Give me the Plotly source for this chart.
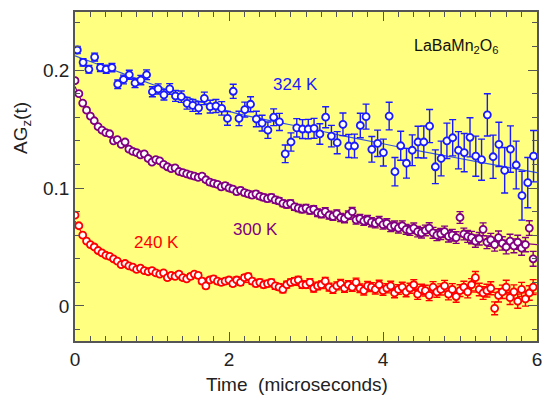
import plotly.graph_objects as go

# ---------------- data ----------------
t_324 = [0.03, 0.105, 0.18, 0.255, 0.33, 0.405, 0.48, 0.555, 0.63, 0.705,
         0.78, 0.855, 0.93, 1.005, 1.08, 1.155, 1.23, 1.305, 1.38, 1.455,
         1.53, 1.605, 1.68, 1.755, 1.83, 1.905, 1.98, 2.055, 2.13, 2.205,
         2.28, 2.355, 2.43, 2.505, 2.58, 2.655, 2.73, 2.805, 2.88, 2.955,
         3.03, 3.105, 3.18, 3.255, 3.33, 3.405, 3.48, 3.555, 3.63, 3.705,
         3.78, 3.855, 3.93, 4.005, 4.08, 4.155, 4.23, 4.305, 4.38, 4.455,
         4.53, 4.605, 4.68, 4.755, 4.83, 4.905, 4.98, 5.055, 5.13, 5.205,
         5.28, 5.355, 5.43, 5.505, 5.58, 5.655, 5.73, 5.805, 5.88, 5.955]
ag_324 = [0.217, 0.2065, 0.2006, 0.211, 0.202, 0.2006, 0.202, 0.188, 0.192, 0.196,
          0.189, 0.1915, 0.196, 0.1816, 0.184, 0.179, 0.184, 0.178, 0.1774, 0.1718,
          0.170, 0.168, 0.176, 0.169, 0.1695, 0.1675, 0.159, 0.182, 0.159, 0.1665,
          0.171, 0.1585, 0.155, 0.149, 0.160, 0.156, 0.129, 0.139, 0.151, 0.150,
          0.150, 0.1506, 0.1458, 0.160, 0.144, 0.1384, 0.154, 0.1356, 0.1356, 0.153,
          0.1605, 0.1328, 0.1379, 0.130, 0.161, 0.1138, 0.1358, 0.121, 0.132, 0.139,
          0.139, 0.1525, 0.118, 0.125, 0.140, 0.1426, 0.132, 0.130, 0.143, 0.127,
          0.124, 0.162, 0.1265, 0.137, 0.115, 0.133, 0.1195, 0.0935, 0.1045, 0.127]
err_324 = [0.0030, 0.0031, 0.0032, 0.0033, 0.0033, 0.0034, 0.0035, 0.0036, 0.0037, 0.0038,
           0.0039, 0.0040, 0.0041, 0.0042, 0.0043, 0.0044, 0.0045, 0.0046, 0.0048, 0.0049,
           0.0050, 0.0051, 0.0053, 0.0054, 0.0055, 0.0057, 0.0058, 0.0060, 0.0061, 0.0063,
           0.0064, 0.0066, 0.0067, 0.0069, 0.0071, 0.0073, 0.0075, 0.0077, 0.0078, 0.0080,
           0.0082, 0.0084, 0.0087, 0.0089, 0.0091, 0.0094, 0.0096, 0.0098, 0.0101, 0.0104,
           0.0106, 0.0109, 0.0112, 0.0114, 0.0117, 0.0120, 0.0123, 0.0126, 0.0130, 0.0133,
           0.0136, 0.0140, 0.0143, 0.0147, 0.0150, 0.0154, 0.0158, 0.0162, 0.0166, 0.0170,
           0.0174, 0.0179, 0.0183, 0.0188, 0.0193, 0.0197, 0.0202, 0.0207, 0.0213, 0.0218]

t_dense = [0.00, 0.05, 0.10, 0.15, 0.20, 0.25, 0.30, 0.35, 0.40, 0.45,
           0.50, 0.55, 0.60, 0.65, 0.70, 0.75, 0.80, 0.85, 0.90, 0.95,
           1.00, 1.05, 1.10, 1.15, 1.20, 1.25, 1.30, 1.35, 1.40, 1.45,
           1.50, 1.55, 1.60, 1.65, 1.70, 1.75, 1.80, 1.85, 1.90, 1.95,
           2.00, 2.05, 2.10, 2.15, 2.20, 2.25, 2.30, 2.35, 2.40, 2.45,
           2.50, 2.55, 2.60, 2.65, 2.70, 2.75, 2.80, 2.85, 2.90, 2.95,
           3.00, 3.05, 3.10, 3.15, 3.20, 3.25, 3.30, 3.35, 3.40, 3.45,
           3.50, 3.55, 3.60, 3.65, 3.70, 3.75, 3.80, 3.85, 3.90, 3.95,
           4.00, 4.05, 4.10, 4.15, 4.20, 4.25, 4.30, 4.35, 4.40, 4.45,
           4.50, 4.55, 4.60, 4.65, 4.70, 4.75, 4.80, 4.85, 4.90, 4.95,
           5.00, 5.05, 5.10, 5.15, 5.20, 5.25, 5.30, 5.35, 5.40, 5.45,
           5.50, 5.55, 5.60, 5.65, 5.70, 5.75, 5.80, 5.85, 5.90, 5.95]

ag_300 = [0.191, 0.180, 0.172, 0.166, 0.161, 0.157, 0.152, 0.149, 0.147, 0.146,
          0.140, 0.141, 0.137, 0.139, 0.133, 0.131, 0.130, 0.128, 0.129, 0.125,
          0.122, 0.124, 0.123, 0.120, 0.118, 0.1165, 0.117, 0.114, 0.113, 0.112,
          0.111, 0.110, 0.109, 0.110, 0.107, 0.105, 0.104, 0.103, 0.101, 0.102,
          0.100, 0.099, 0.097, 0.098, 0.096, 0.095, 0.094, 0.095, 0.093, 0.092,
          0.091, 0.092, 0.090, 0.089, 0.087, 0.086, 0.087, 0.084, 0.083, 0.082,
          0.083, 0.081, 0.082, 0.079, 0.078, 0.080, 0.077, 0.076, 0.078, 0.075,
          0.074, 0.077, 0.080, 0.073, 0.074, 0.072, 0.073, 0.071, 0.070, 0.072,
          0.069, 0.070, 0.067, 0.068, 0.066, 0.068, 0.065, 0.064, 0.066, 0.063,
          0.062, 0.064, 0.066, 0.062, 0.060, 0.061, 0.063, 0.059, 0.060, 0.058,
          0.075, 0.061, 0.059, 0.058, 0.055, 0.057, 0.065, 0.054, 0.056, 0.052,
          0.058, 0.053, 0.050, 0.055, 0.051, 0.054, 0.049, 0.052, 0.066, 0.040]

ag_240 = [0.077, 0.068, 0.060, 0.055, 0.052, 0.050, 0.047, 0.045, 0.043, 0.042,
          0.040, 0.038, 0.035, 0.036, 0.034, 0.033, 0.031, 0.032, 0.030, 0.029,
          0.030, 0.028, 0.027, 0.028, 0.024, 0.026, 0.025, 0.027, 0.024, 0.023,
          0.025, 0.027, 0.026, 0.021, 0.017, 0.022, 0.023, 0.021, 0.020, 0.021,
          0.022, 0.019, 0.022, 0.020, 0.024, 0.025, 0.021, 0.019, 0.020, 0.018,
          0.019, 0.020, 0.017, 0.016, 0.014, 0.018, 0.020, 0.021, 0.022, 0.018,
          0.018, 0.020, 0.015, 0.017, 0.018, 0.021, 0.016, 0.014, 0.017, 0.019,
          0.015, 0.018, 0.016, 0.020, 0.015, 0.013, 0.017, 0.016, 0.014, 0.018,
          0.013, 0.015, 0.017, 0.011, 0.014, 0.016, 0.012, 0.015, 0.018, 0.010,
          0.014, 0.013, 0.009, 0.016, 0.012, 0.014, 0.017, 0.010, 0.014, 0.008,
          0.013, 0.016, 0.012, 0.018, 0.024, 0.014, 0.011, 0.013, 0.015, -0.002,
          0.009, 0.012, 0.016, 0.007, 0.012, 0.004, 0.014, 0.006, 0.011, 0.016]

err_dense = [0.0015, 0.0015, 0.0015, 0.0016, 0.0016, 0.0016, 0.0016, 0.0016, 0.0016, 0.0017,
             0.0017, 0.0017, 0.0017, 0.0017, 0.0018, 0.0018, 0.0018, 0.0018, 0.0018, 0.0019,
             0.0019, 0.0019, 0.0019, 0.0019, 0.0020, 0.0020, 0.0020, 0.0020, 0.0021, 0.0021,
             0.0021, 0.0021, 0.0022, 0.0022, 0.0022, 0.0022, 0.0023, 0.0023, 0.0023, 0.0024,
             0.0024, 0.0024, 0.0025, 0.0025, 0.0025, 0.0025, 0.0026, 0.0026, 0.0026, 0.0027,
             0.0027, 0.0027, 0.0028, 0.0028, 0.0028, 0.0029, 0.0029, 0.0029, 0.0030, 0.0030,
             0.0031, 0.0031, 0.0031, 0.0032, 0.0032, 0.0032, 0.0033, 0.0033, 0.0034, 0.0034,
             0.0034, 0.0035, 0.0035, 0.0036, 0.0036, 0.0037, 0.0037, 0.0038, 0.0038, 0.0038,
             0.0039, 0.0039, 0.0040, 0.0040, 0.0041, 0.0041, 0.0042, 0.0042, 0.0043, 0.0044,
             0.0044, 0.0045, 0.0045, 0.0046, 0.0046, 0.0047, 0.0047, 0.0048, 0.0049, 0.0049,
             0.0050, 0.0050, 0.0051, 0.0052, 0.0052, 0.0053, 0.0054, 0.0054, 0.0055, 0.0055,
             0.0056, 0.0057, 0.0058, 0.0058, 0.0059, 0.0060, 0.0060, 0.0061, 0.0062, 0.0063]

# fitted curves
t_fit = [0.0, 0.1, 0.2, 0.4, 0.6, 0.8, 1.0, 1.25, 1.5, 1.75, 2.0, 2.5, 3.0,
         3.5, 4.0, 4.5, 5.0, 5.5, 6.0]
fit_324 = [0.212, 0.2096, 0.2072, 0.2024, 0.1976, 0.1928, 0.188, 0.182, 0.176,
           0.1705, 0.165, 0.1575, 0.151, 0.144, 0.1375, 0.131, 0.125, 0.119, 0.113]
fit_300 = [0.186, 0.172, 0.162, 0.148, 0.138, 0.130, 0.123, 0.117, 0.111, 0.105,
           0.100, 0.091, 0.083, 0.076, 0.069, 0.064, 0.059, 0.055, 0.052]
fit_240 = [0.072, 0.061, 0.054, 0.045, 0.038, 0.033, 0.030, 0.027, 0.025, 0.023,
           0.021, 0.019, 0.017, 0.0155, 0.014, 0.013, 0.012, 0.0115, 0.011]

labels = ["324 K", "300 K", "240 K"]
colors = ["#1a1aff", "#800080", "#ff0000"]

# ---------------- figure ----------------
fig = go.Figure()

for fit, col in zip([fit_324, fit_300, fit_240], ["#3355dd", "#800080", "#ff0000"]):
    fig.add_trace(go.Scatter(x=t_fit, y=fit, mode="lines", line=dict(color=col, width=1.2, shape="spline"),
                             hoverinfo="skip", showlegend=False))

series = [(t_dense, ag_240, err_dense, colors[2], 7),
          (t_dense, ag_300, err_dense, colors[1], 7),
          (t_324, ag_324, err_324, colors[0], 7)]
for tx, ag, er, col, ms in series:
    fig.add_trace(go.Scatter(
        x=tx, y=ag, mode="markers",
        marker=dict(symbol="circle", size=ms, color="white", line=dict(color=col, width=1.8)),
        error_y=dict(type="data", array=er, visible=True, color=col, thickness=1.4, width=3.5),
        showlegend=False))

font_family = "Liberation Sans, Arial, sans-serif"

fig.add_annotation(x=2.86, y=0.188, xref="x", yref="y", text=labels[0], showarrow=False,
                   font=dict(family=font_family, size=17, color="#1a1aff"))
fig.add_annotation(x=2.34, y=0.065, xref="x", yref="y", text=labels[1], showarrow=False,
                   font=dict(family=font_family, size=17, color="#800080"))
fig.add_annotation(x=1.06, y=0.054, xref="x", yref="y", text=labels[2], showarrow=False,
                   font=dict(family=font_family, size=17, color="#ff0000"))
fig.add_annotation(x=4.96, y=0.220, xref="x", yref="y", text="LaBaMn<sub>2</sub>O<sub>6</sub>",
                   showarrow=False, font=dict(family=font_family, size=16, color="#111111"))
fig.add_annotation(x=22, y=128, xref="paper", yref="paper", text="AG<sub>z</sub>(t)", showarrow=False,
                   textangle=-90, font=dict(family=font_family, size=19, color="#222222"))
fig.add_annotation(x=297, y=384, xref="paper", yref="paper", text="Time  (microseconds)", showarrow=False,
                   font=dict(family=font_family, size=19, color="#222222"))

# convert the two paper-pixel annotations to paper fractions
W, H = 542, 396
ml, mr, mt, mb = 75, 5, 12, 55
pw, ph = W - ml - mr, H - mt - mb
for ann in fig.layout.annotations[-2:]:
    px, py = ann.x, ann.y
    ann.x = (px - ml) / pw
    ann.y = (H - mb - py) / ph
    ann.xanchor = "center"
    ann.yanchor = "middle"

axis_common = dict(showline=True, linecolor="#555555", linewidth=1.5, mirror="allticks",
                   ticks="inside", tickcolor="#555555", tickwidth=1.2, showgrid=False, zeroline=False,
                   automargin=False, ticklabeloverflow="allow",
                   tickfont=dict(family=font_family, size=19, color="#222222"))

fig.update_xaxes(range=[0, 6], dtick=2, tick0=0, ticklen=9,
                 minor=dict(dtick=0.2, tick0=0, ticks="inside", ticklen=5, tickcolor="#555555", showgrid=False),
                 **axis_common)
fig.update_yaxes(range=[-0.0297, 0.2492], dtick=0.1, tick0=0, ticklen=9,
                 minor=dict(dtick=0.02, tick0=0, ticks="inside", ticklen=5, tickcolor="#555555", showgrid=False),
                 **axis_common)

fig.update_layout(width=W, height=H, margin=dict(l=ml, r=mr, t=mt, b=mb, autoexpand=False),
                  paper_bgcolor="white", plot_bgcolor="#ffff80", showlegend=False)

fig.write_html("out.html")
